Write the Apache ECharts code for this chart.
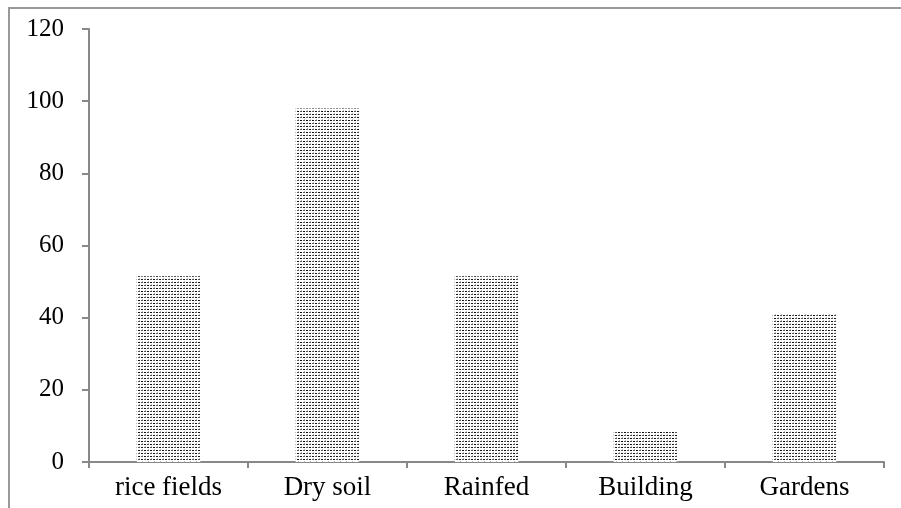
<!DOCTYPE html>
<html>
<head>
<meta charset="utf-8">
<script src="https://cdn.jsdelivr.net/npm/echarts@6/dist/echarts.min.js"></script>
<style>
html,body{margin:0;padding:0;background:#fff;}
#c{width:901px;height:508px;}
</style>
</head>
<body>
<div id="c"></div>
<script>
const categories = ['rice fields', 'Dry soil', 'Rainfed', 'Building', 'Gardens'];
const values = [51.5, 98, 51.5, 8.3, 41];
const yTicks = { min: 0, max: 120, interval: 20 };

function makePattern() {
  const cv = document.createElement('canvas');
  cv.width = 6; cv.height = 6;
  const ctx = cv.getContext('2d');
  ctx.fillStyle = '#fff';
  ctx.fillRect(0, 0, 6, 6);
  ctx.fillStyle = '#111';
  ctx.fillRect(0, 0, 2, 1);
  ctx.fillRect(3, 3, 2, 1);
  ctx.fillStyle = '#555';
  ctx.fillRect(3, 0, 2, 1);
  ctx.fillRect(0, 3, 2, 1);
  ctx.fillStyle = '#bbb';
  ctx.fillRect(1, 2, 1, 1);
  ctx.fillRect(4, 5, 1, 1);
  return cv;
}

const chart = echarts.init(document.getElementById('c'), null, { renderer: 'canvas' });
const font = 'Liberation Serif';
chart.setOption({
  animation: false,
  backgroundColor: '#fff',
  graphic: [{
    type: 'rect',
    shape: { x: 9, y: 8, width: 1000, height: 1000 },
    style: { fill: 'none', stroke: '#999', lineWidth: 2 },
    silent: true
  }],
  grid: { left: 89, right: 17, top: 29, bottom: 46, containLabel: false },
  xAxis: {
    type: 'category',
    data: categories,
    boundaryGap: true,
    axisLine: { show: true, lineStyle: { color: '#888', width: 2 } },
    axisTick: { show: true, alignWithLabel: false, length: 6, lineStyle: { color: '#888', width: 2 } },
    axisLabel: { fontFamily: font, fontSize: 27, color: '#000', margin: 12 },
    splitLine: { show: false }
  },
  yAxis: {
    type: 'value',
    min: yTicks.min, max: yTicks.max, interval: yTicks.interval,
    axisLine: { show: true, lineStyle: { color: '#888', width: 2 } },
    axisTick: { show: true, length: 7, lineStyle: { color: '#888', width: 2 } },
    axisLabel: { fontFamily: font, fontSize: 25, color: '#000', margin: 25 },
    splitLine: { show: false }
  },
  series: [{
    type: 'bar',
    data: values,
    barWidth: '40%',
    itemStyle: { color: { image: makePattern(), repeat: 'repeat' } }
  }]
});
</script>
</body>
</html>
